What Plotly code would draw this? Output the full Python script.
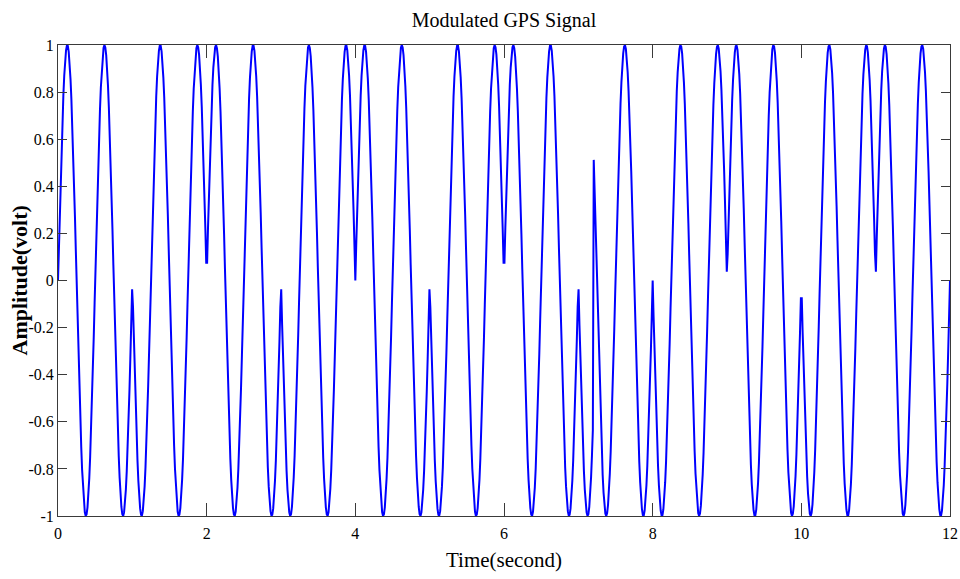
import numpy as np
import plotly.graph_objects as go

# BPSK-modulated carrier: phase segments (seconds) and their signs
bit_edges = [0, 1, 2, 3, 4, 5, 6, 7, 7.2, 8, 9, 10, 11, 12]
bit_signs = [1, -1, 1, -1, 1, -1, 1, -1, 1, -1, 1, -1, 1]
carrier_hz = 2.0
n_samples = 1000

x_ticks = [0, 2, 4, 6, 8, 10, 12]
y_ticks = [-1, -0.8, -0.6, -0.4, -0.2, 0, 0.2, 0.4, 0.6, 0.8, 1]
y_tick_text = ["-1", "-0.8", "-0.6", "-0.4", "-0.2", "0", "0.2", "0.4", "0.6", "0.8", "1"]

# sampled waveform
t = np.linspace(bit_edges[0], bit_edges[-1], n_samples)
seg = np.clip(np.searchsorted(bit_edges, t, side="right") - 1, 0, len(bit_signs) - 1)
phase_sign = np.asarray(bit_signs)[seg]
signal = phase_sign * np.sin(2 * np.pi * carrier_hz * t)

W, H = 960, 579
ml, mr, mt, mb = 58, 10, 45, 63
pw, ph = W - ml - mr, H - mt - mb

serif = "Liberation Serif, Times New Roman, serif"

fig = go.Figure()
fig.add_trace(go.Scatter(
    x=t, y=signal, mode="lines",
    line=dict(color="#0000ff", width=2),
    showlegend=False, hoverinfo="skip",
))

axis_common = dict(
    showgrid=False, zeroline=False,
    showline=True, linecolor="#3a3a3a", linewidth=1,
    mirror="ticks", ticks="inside", tickcolor="#3a3a3a", tickwidth=1,
    tickfont=dict(family=serif, size=16, color="black"),
)

fig.update_layout(
    width=W, height=H,
    margin=dict(l=ml, r=mr, t=mt, b=mb, autoexpand=False),
    paper_bgcolor="white", plot_bgcolor="white",
    title=dict(
        text="Modulated GPS Signal",
        font=dict(family=serif, size=20, color="black"),
        x=(ml + pw / 2) / W, xanchor="center",
        y=1 - 20 / H, yanchor="middle",
    ),
    xaxis=dict(range=[0, 12], tickvals=x_ticks, ticklen=13, ticklabelstandoff=3, **axis_common),
    yaxis=dict(range=[-1, 1], tickvals=y_ticks, ticktext=y_tick_text, ticklen=9, **axis_common),
    annotations=[
        dict(text="Time(second)", xref="paper", yref="paper",
             x=0.5, y=-(560 - (mt + ph)) / ph, xanchor="center", yanchor="middle",
             showarrow=False, font=dict(family=serif, size=21, color="black")),
        dict(text="<b>Amplitude(volt)</b>", xref="paper", yref="paper",
             x=(19 - ml) / pw, y=0.5, xanchor="center", yanchor="middle",
             textangle=-90, showarrow=False,
             font=dict(family=serif, size=22, color="black")),
    ],
)

fig.write_html("out.html")
